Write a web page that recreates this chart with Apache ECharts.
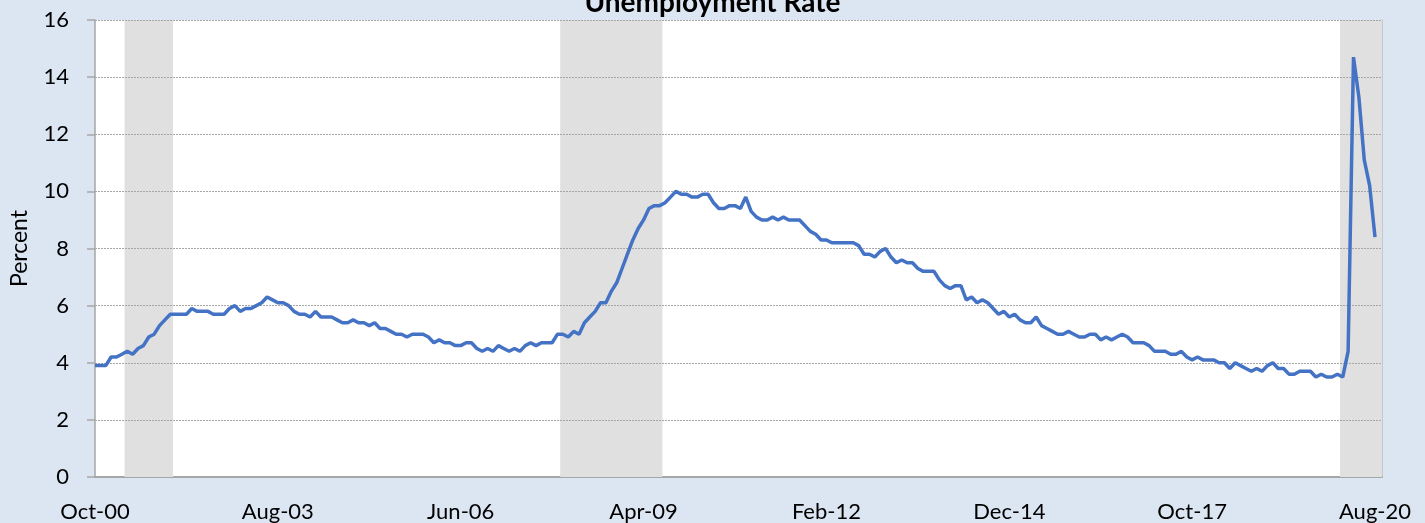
<!DOCTYPE html>
<html>
<head>
<meta charset="utf-8">
<script src="https://cdn.jsdelivr.net/npm/echarts@6/dist/echarts.min.js"></script>
<style>
  html, body { margin: 0; padding: 0; background: #dce6f2; }
  #chart { width: 1425px; height: 523px; }
</style>
</head>
<body>
<div id="chart"></div>
<script>
// monthly unemployment rate, Oct 2000 .. Aug 2020
const rate2000 = [3.9, 3.9, 3.9] // Oct-Dec
const rate2001 = [4.2, 4.2, 4.3, 4.4, 4.3, 4.5, 4.6, 4.9, 5.0, 5.3, 5.5, 5.7]
const rate2002 = [5.7, 5.7, 5.7, 5.9, 5.8, 5.8, 5.8, 5.7, 5.7, 5.7, 5.9, 6.0]
const rate2003 = [5.8, 5.9, 5.9, 6.0, 6.1, 6.3, 6.2, 6.1, 6.1, 6.0, 5.8, 5.7]
const rate2004 = [5.7, 5.6, 5.8, 5.6, 5.6, 5.6, 5.5, 5.4, 5.4, 5.5, 5.4, 5.4]
const rate2005 = [5.3, 5.4, 5.2, 5.2, 5.1, 5.0, 5.0, 4.9, 5.0, 5.0, 5.0, 4.9]
const rate2006 = [4.7, 4.8, 4.7, 4.7, 4.6, 4.6, 4.7, 4.7, 4.5, 4.4, 4.5, 4.4]
const rate2007 = [4.6, 4.5, 4.4, 4.5, 4.4, 4.6, 4.7, 4.6, 4.7, 4.7, 4.7, 5.0]
const rate2008 = [5.0, 4.9, 5.1, 5.0, 5.4, 5.6, 5.8, 6.1, 6.1, 6.5, 6.8, 7.3]
const rate2009 = [7.8, 8.3, 8.7, 9.0, 9.4, 9.5, 9.5, 9.6, 9.8, 10.0, 9.9, 9.9]
const rate2010 = [9.8, 9.8, 9.9, 9.9, 9.6, 9.4, 9.4, 9.5, 9.5, 9.4, 9.8, 9.3]
const rate2011 = [9.1, 9.0, 9.0, 9.1, 9.0, 9.1, 9.0, 9.0, 9.0, 8.8, 8.6, 8.5]
const rate2012 = [8.3, 8.3, 8.2, 8.2, 8.2, 8.2, 8.2, 8.1, 7.8, 7.8, 7.7, 7.9]
const rate2013 = [8.0, 7.7, 7.5, 7.6, 7.5, 7.5, 7.3, 7.2, 7.2, 7.2, 6.9, 6.7]
const rate2014 = [6.6, 6.7, 6.7, 6.2, 6.3, 6.1, 6.2, 6.1, 5.9, 5.7, 5.8, 5.6]
const rate2015 = [5.7, 5.5, 5.4, 5.4, 5.6, 5.3, 5.2, 5.1, 5.0, 5.0, 5.1, 5.0]
const rate2016 = [4.9, 4.9, 5.0, 5.0, 4.8, 4.9, 4.8, 4.9, 5.0, 4.9, 4.7, 4.7]
const rate2017 = [4.7, 4.6, 4.4, 4.4, 4.4, 4.3, 4.3, 4.4, 4.2, 4.1, 4.2, 4.1]
const rate2018 = [4.1, 4.1, 4.0, 4.0, 3.8, 4.0, 3.9, 3.8, 3.7, 3.8, 3.7, 3.9]
const rate2019 = [4.0, 3.8, 3.8, 3.6, 3.6, 3.7, 3.7, 3.7, 3.5, 3.6, 3.5, 3.5]
const rate2020 = [3.6, 3.5, 4.4, 14.7, 13.3, 11.1, 10.2, 8.4] // Jan-Aug

const rate = [].concat(rate2000, rate2001, rate2002, rate2003, rate2004, rate2005,
  rate2006, rate2007, rate2008, rate2009, rate2010, rate2011, rate2012, rate2013,
  rate2014, rate2015, rate2016, rate2017, rate2018, rate2019, rate2020)

const tickLabels = ['Oct-00', 'Aug-03', 'Jun-06', 'Apr-09', 'Feb-12', 'Dec-14', 'Oct-17', 'Aug-20']
// shaded recession months (first, last)
const recessions = [['Apr-01', 'Dec-01'], ['Jan-08', 'Jul-09'], ['Feb-20', 'Aug-20']]

const monthNames = ['Jan', 'Feb', 'Mar', 'Apr', 'May', 'Jun', 'Jul', 'Aug', 'Sep', 'Oct', 'Nov', 'Dec']
const months = []
for (let i = 0; i < rate.length; i++) {
  const m = 9 + i
  const yy = (m / 12 | 0) % 100
  months.push(monthNames[m % 12] + '-' + String(yy).padStart(2, '0'))
}

const last = rate.length - 1
const xMax = last + 1.3 // plot runs a little past the last month
const labelStep = 34

const areas = recessions.map(([a, b]) => {
  const i0 = months.indexOf(a)
  const i1 = months.indexOf(b)
  return [{ xAxis: i0 - 0.5 }, { xAxis: i1 === last ? xMax : i1 + 0.5 }]
})

const font = 'Lato, "Open Sans", sans-serif'
const gray = '#a6a6a6'

const chart = echarts.init(document.getElementById('chart'))
chart.setOption({
  backgroundColor: '#dce6f2',
  animation: false,
  title: {
    text: 'Unemployment Rate',
    left: 'center',
    top: -16,
    textStyle: { fontFamily: font, fontWeight: 'bold', fontSize: 28, color: '#000' },
  },
  grid: {
    left: 93,
    right: 43,
    top: 20,
    bottom: 46,
    show: true,
    backgroundColor: '#fff',
    borderWidth: 0,
  },
  xAxis: {
    type: 'value',
    min: 0,
    max: xMax,
    interval: labelStep,
    axisLine: { show: true, onZero: false, lineStyle: { color: gray, width: 2 } },
    axisTick: { show: false },
    splitLine: { show: false },
    axisLabel: {
      margin: 24,
      fontFamily: font,
      fontSize: 22,
      color: '#000',
      showMaxLabel: false,
      formatter: (v) => {
        const lab = months[v]
        return tickLabels.includes(lab) ? lab : ''
      },
    },
  },
  yAxis: [
    {
      type: 'value',
      min: 0,
      max: 16,
      interval: 2,
      z: 3,
      name: 'Percent',
      nameLocation: 'middle',
      nameGap: 64,
      nameTextStyle: { fontFamily: font, fontSize: 23, color: '#000' },
      axisLine: { show: true, lineStyle: { color: gray, width: 1.5 } },
      axisTick: { show: true, length: 8, lineStyle: { color: gray, width: 1.5 } },
      axisLabel: { margin: 26, fontFamily: font, fontSize: 22, color: '#000' },
      splitLine: { show: true, lineStyle: { color: gray, type: [2, 1], width: 1 } },
    },
    {
      type: 'value',
      position: 'right',
      min: 0,
      max: 16,
      interval: 2,
      axisLine: { show: true, lineStyle: { color: '#bfbfbf', width: 1.5 } },
      axisTick: { show: false },
      axisLabel: { show: false },
      splitLine: { show: false },
    },
  ],
  series: [
    {
      name: 'recession',
      type: 'line',
      z: 1,
      data: [],
      markArea: {
        silent: true,
        itemStyle: { color: '#e0e0e0' },
        data: areas,
      },
    },
    {
      name: 'Unemployment Rate',
      type: 'line',
      z: 5,
      showSymbol: false,
      symbol: 'none',
      data: rate.map((v, i) => [i, v]),
      lineStyle: { color: '#4472c4', width: 3.5 },
    },
  ],
})
</script>
</body>
</html>
